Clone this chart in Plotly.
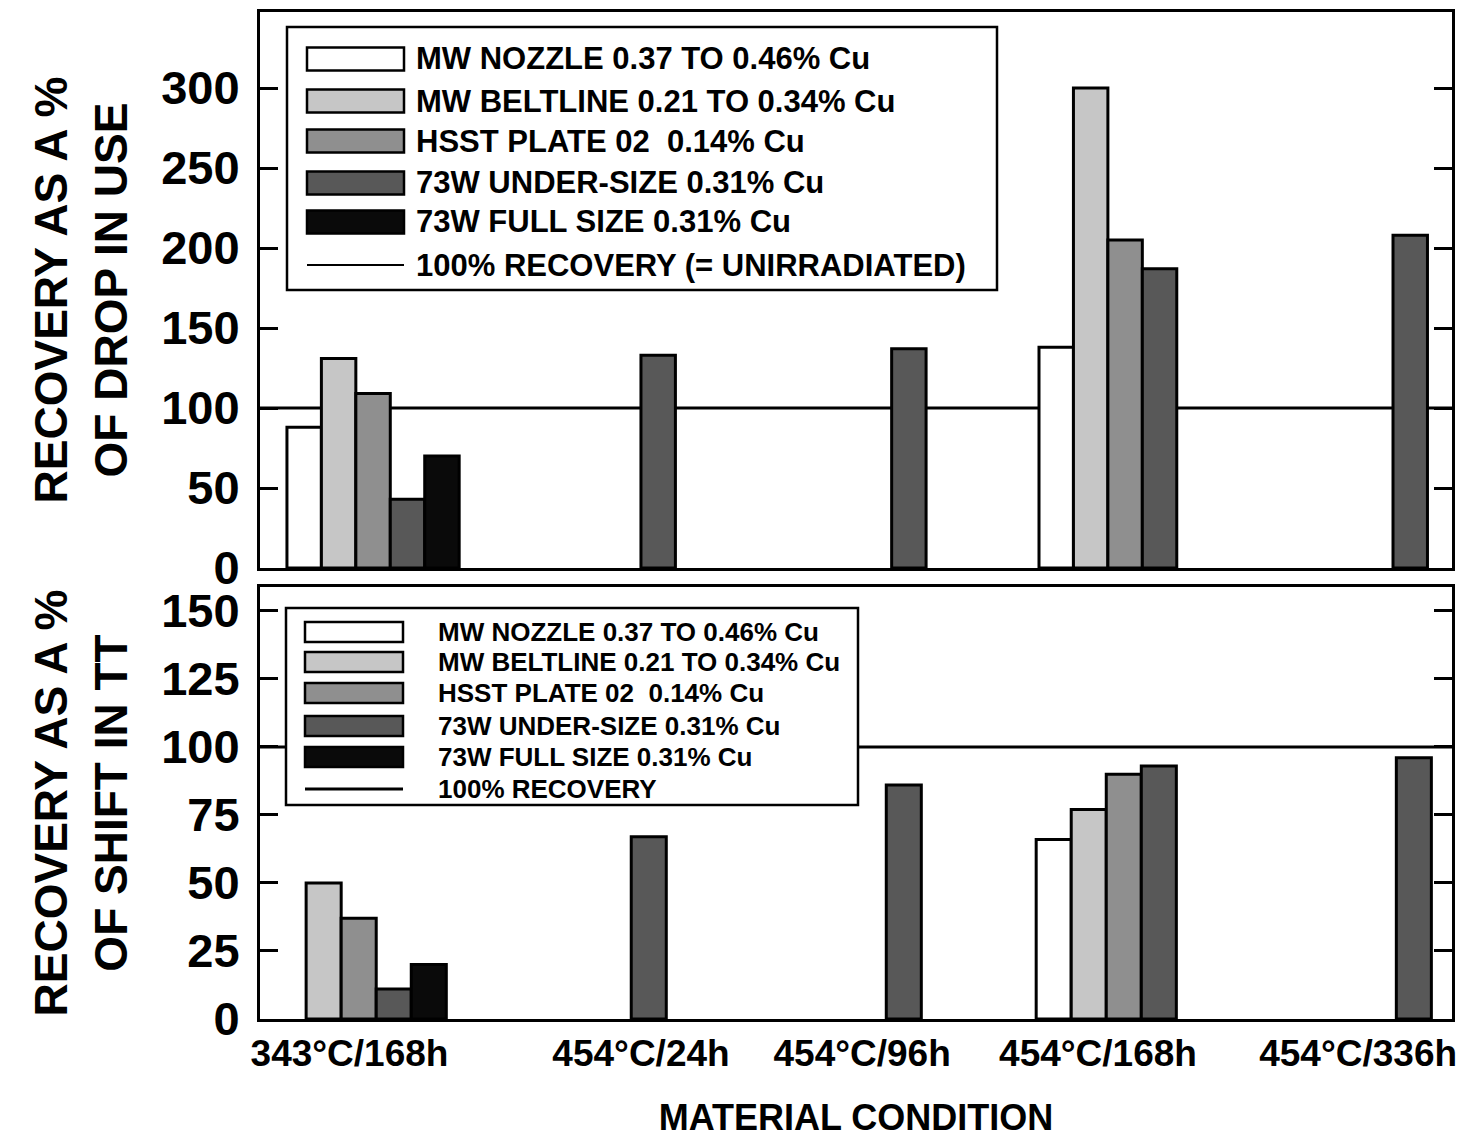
import plotly.graph_objects as go
from plotly.subplots import make_subplots

# ---------------- data ----------------
CONDITIONS = ["343°C/168h", "454°C/24h", "454°C/96h", "454°C/168h", "454°C/336h"]
SERIES = [
    "MW NOZZLE 0.37 TO 0.46% Cu",
    "MW BELTLINE 0.21 TO 0.34% Cu",
    "HSST PLATE 02  0.14% Cu",
    "73W UNDER-SIZE 0.31% Cu",
    "73W FULL SIZE 0.31% Cu",
]

# Top panel: recovery as a % of drop in USE
DROP_NOZZLE = [88, None, None, 138, None]
DROP_BELTLINE = [131, None, None, 300, None]
DROP_HSST = [109, None, None, 205, None]
DROP_73W_UNDER = [43, 133, 137, 187, 208]
DROP_73W_FULL = [70, None, None, None, None]

# Bottom panel: recovery as a % of shift in TT
SHIFT_NOZZLE = [None, None, None, 66, None]
SHIFT_BELTLINE = [50, None, None, 77, None]
SHIFT_HSST = [37, None, None, 90, None]
SHIFT_73W_UNDER = [11, 67, 86, 93, 96]
SHIFT_73W_FULL = [20, None, None, None, None]

FULL_RECOVERY = 100
TOP_TICKS = [0, 50, 100, 150, 200, 250, 300]
BOTTOM_TICKS = [0, 25, 50, 75, 100, 125, 150]

LEGEND_LINE_TOP = "100% RECOVERY (= UNIRRADIATED)"
LEGEND_LINE_BOTTOM = "100% RECOVERY"

# ---------------- styling ----------------
COLORS = ["#ffffff", "#c6c6c6", "#8f8f8f", "#585858", "#0a0a0a"]
FONT = "Liberation Sans, Arial, Helvetica, sans-serif"

W, H = 1466, 1138
ML, MR, MT, MB = 260, 14, 12, 119
PW, PH = W - ML - MR, H - MT - MB


def px_x(px):
    return (px - ML) / PW


def px_y(py):
    return (H - MB - py) / PH


fig = make_subplots(rows=2, cols=1)

top_vals = [DROP_NOZZLE, DROP_BELTLINE, DROP_HSST, DROP_73W_UNDER, DROP_73W_FULL]
bot_vals = [SHIFT_NOZZLE, SHIFT_BELTLINE, SHIFT_HSST, SHIFT_73W_UNDER, SHIFT_73W_FULL]
xpos = list(range(len(CONDITIONS)))

for i, name in enumerate(SERIES):
    fig.add_trace(go.Bar(x=xpos, y=top_vals[i], name=name, showlegend=False,
                         marker=dict(color=COLORS[i], line=dict(color="black", width=3)),
                         hovertext=CONDITIONS), row=1, col=1)
    fig.add_trace(go.Bar(x=xpos, y=bot_vals[i], name=name, showlegend=False,
                         marker=dict(color=COLORS[i], line=dict(color="black", width=3)),
                         hovertext=CONDITIONS), row=2, col=1)

fig.add_hline(y=FULL_RECOVERY, row=1, col=1, line=dict(color="black", width=3), layer="below")
fig.add_hline(y=FULL_RECOVERY, row=2, col=1, line=dict(color="black", width=3), layer="below")

axis_common = dict(showgrid=False, zeroline=False, showline=True, linecolor="black",
                   linewidth=3, automargin=False)

fig.update_layout(
    width=W, height=H,
    margin=dict(l=ML, r=MR, t=MT, b=MB, autoexpand=False),
    paper_bgcolor="white", plot_bgcolor="white",
    barmode="group", bargap=0.313, bargroupgap=0,
    font=dict(family=FONT, color="black", weight="bold"),
    xaxis=dict(domain=[0, 1], range=[-0.451, 4.304], mirror=True, ticks="",
               showticklabels=False, **axis_common),
    yaxis=dict(domain=[px_y(568), 1], range=[0, 347.5], tickmode="array",
               tickvals=TOP_TICKS, ticks="inside", ticklen=18, tickwidth=3,
               tickcolor="black", mirror="ticks", ticklabelstandoff=8,
               tickfont=dict(size=47, family=FONT, weight="bold"),
               title=dict(text="RECOVERY AS A %<br>OF DROP IN USE",
                          font=dict(size=46, family=FONT, weight="bold"), standoff=20),
               **axis_common),
    xaxis2=dict(domain=[0, 1], range=[-0.387, 4.287], mirror=True, ticks="",
                tickmode="array",
                tickvals=[p + s for p, s in zip(xpos, [-0.036, 0.107, -0.026, -0.101, -0.081])],
                ticktext=CONDITIONS, ticklabelstandoff=0,
                tickfont=dict(size=37, family=FONT, weight="bold"),
                title=dict(text="MATERIAL CONDITION",
                           font=dict(size=36, family=FONT, weight="bold"), standoff=34),
                **axis_common),
    yaxis2=dict(domain=[0, px_y(587)], range=[0, 158.8], tickmode="array",
                tickvals=BOTTOM_TICKS, ticks="inside", ticklen=18, tickwidth=3,
                tickcolor="black", mirror="ticks", ticklabelstandoff=8,
                tickfont=dict(size=47, family=FONT, weight="bold"),
                title=dict(text="RECOVERY AS A %<br>OF SHIFT IN TT",
                           font=dict(size=46, family=FONT, weight="bold"), standoff=20),
                **axis_common),
)

# ---------------- custom legends (wide swatches as in the original) ----------------
shapes = []
annotations = []


def add_legend(box, sw_x, rows, text_x, font_size, sw_h, line_label, line_w):
    x0, y0, x1, y1 = box
    shapes.append(dict(type="rect", xref="paper", yref="paper",
                       x0=px_x(x0), x1=px_x(x1), y0=px_y(y1), y1=px_y(y0),
                       line=dict(color="black", width=2.5), fillcolor="white", layer="above"))
    labels = SERIES + [line_label]
    for i, lab in enumerate(labels):
        cy = rows[i]
        if i < len(SERIES):
            shapes.append(dict(type="rect", xref="paper", yref="paper",
                               x0=px_x(sw_x[0]), x1=px_x(sw_x[1]),
                               y0=px_y(cy + sw_h / 2), y1=px_y(cy - sw_h / 2),
                               line=dict(color="black", width=2.5), fillcolor=COLORS[i],
                               layer="above"))
        else:
            shapes.append(dict(type="line", xref="paper", yref="paper",
                               x0=px_x(sw_x[0]), x1=px_x(sw_x[1]),
                               y0=px_y(cy), y1=px_y(cy),
                               line=dict(color="black", width=line_w), layer="above"))
        annotations.append(dict(text=lab, xref="paper", yref="paper",
                                x=px_x(text_x), y=px_y(cy), xanchor="left", yanchor="middle",
                                showarrow=False,
                                font=dict(size=font_size, family=FONT, weight="bold", color="black")))


add_legend((287, 27, 997, 290), (307, 404), [59, 101, 141, 183, 222, 265], 414, 31, 23,
           LEGEND_LINE_TOP, 2)
add_legend((286, 608, 858, 805), (305, 403), [632, 662, 693, 726, 757, 789], 436, 26, 20,
           LEGEND_LINE_BOTTOM, 3)

fig.update_layout(shapes=list(fig.layout.shapes) + shapes, annotations=annotations)

fig.write_html(
    "out.html",
    config={"displayModeBar": False},
    post_script="document.documentElement.style.margin='0';document.body.style.margin='0';"
                "document.body.style.overflow='hidden';",
)
